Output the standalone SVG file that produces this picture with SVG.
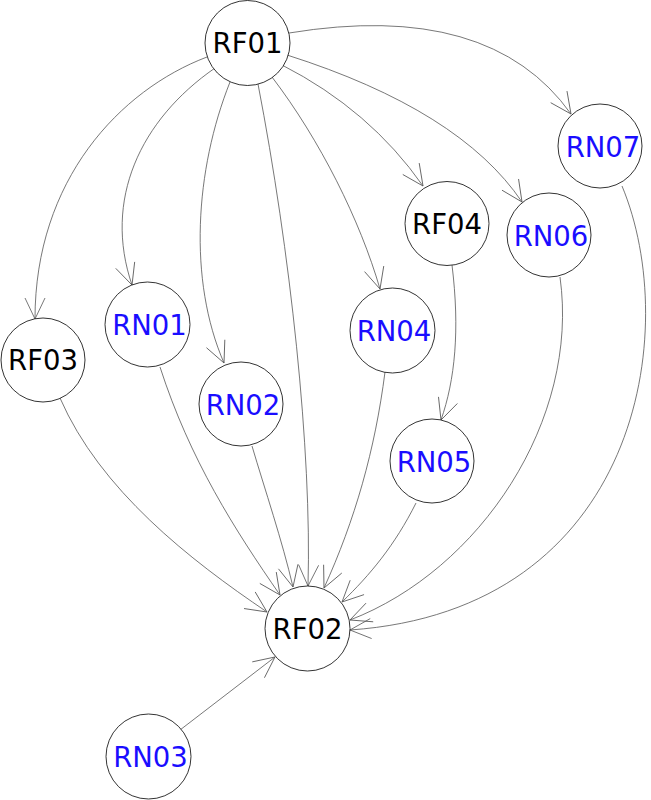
<svg xmlns="http://www.w3.org/2000/svg" width="651" height="800" viewBox="0 0 651 800">
<style>
.node circle{fill:#fff;stroke:#000;stroke-width:0.8}
.node text{font-family:"DejaVu Sans",sans-serif;font-size:27.5px;text-anchor:middle}
.rf text{fill:#000}
.rn text{fill:#1a0dff}
#edges path{fill:none;stroke:#555;stroke-width:0.8;marker-end:url(#arr)}
</style>
<defs>
<marker id="arr" markerUnits="userSpaceOnUse" markerWidth="24" markerHeight="24" viewBox="-22 -12 24 24" refX="0" refY="0" orient="auto">
<path d="M-21,-10 L0,0 L-21,10" fill="none" stroke="#555" stroke-width="0.8"/>
</marker>
</defs>
<rect width="651" height="800" fill="#fff"/>
<g id="edges">
<path d="M207,57 C120,90 35,180 35,319"/>
<path d="M215,68 C140,120 103,200 132,285"/>
<path d="M230,82 C195,170 188,280 224,363"/>
<path d="M258,84 C290,250 312,450 308,586"/>
<path d="M272,77 C320,140 360,220 380,289"/>
<path d="M282,65 Q370,110 423,186"/>
<path d="M287,55 Q460,110 522,202"/>
<path d="M289,33 Q490,0 571,114"/>
<path d="M452,265 C460,330 455,380 441,420"/>
<path d="M60,398 C100,490 190,560 267,612"/>
<path d="M160,367 C190,460 235,530 280,595"/>
<path d="M252,446 C265,490 282,540 293,587"/>
<path d="M385,372 C375,450 355,520 324,588"/>
<path d="M416,503 C395,545 370,575 342,602"/>
<path d="M560,277 C580,420 480,570 350,620"/>
<path d="M622,186 C682,330 640,610 350,630"/>
<path d="M180,730 L275,657"/>
</g>
<g id="RF01" class="node rf"><circle cx="247.5" cy="43" r="42.5"/><text x="247.5" y="53">RF01</text></g>
<g id="RF02" class="node rf"><circle cx="307.5" cy="628.5" r="42.5"/><text x="307.5" y="638.5">RF02</text></g>
<g id="RF03" class="node rf"><circle cx="43" cy="360" r="42"/><text x="43" y="370">RF03</text></g>
<g id="RF04" class="node rf"><circle cx="447" cy="223.5" r="42"/><text x="447" y="233.5">RF04</text></g>
<g id="RN01" class="node rn"><circle cx="147.5" cy="324.5" r="42.5"/><text x="149.5" y="335">RN01</text></g>
<g id="RN02" class="node rn"><circle cx="241" cy="404" r="42"/><text x="243" y="414.5">RN02</text></g>
<g id="RN03" class="node rn"><circle cx="148.5" cy="756.5" r="42.5"/><text x="150.5" y="767">RN03</text></g>
<g id="RN04" class="node rn"><circle cx="392.5" cy="330.5" r="42.5"/><text x="394" y="341">RN04</text></g>
<g id="RN05" class="node rn"><circle cx="432" cy="461" r="42"/><text x="434" y="471.5">RN05</text></g>
<g id="RN06" class="node rn"><circle cx="549" cy="235" r="42"/><text x="551" y="245.5">RN06</text></g>
<g id="RN07" class="node rn"><circle cx="600" cy="146" r="42"/><text x="603" y="156.5">RN07</text></g>
</svg>
